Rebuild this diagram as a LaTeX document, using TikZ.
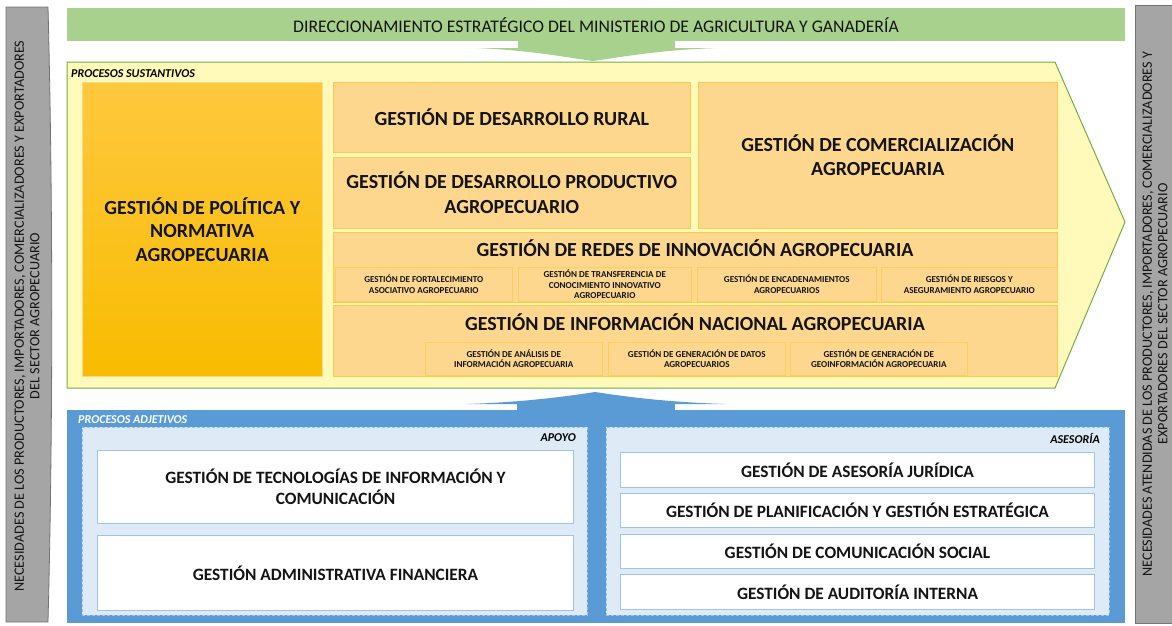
\documentclass[tikz,border=0pt]{standalone}
\usepackage{fontspec}
\setmainfont{Carlito}
\usetikzlibrary{positioning}

\definecolor{bannergreen}{HTML}{A9D18E}
\definecolor{edgegreen}{HTML}{70AD47}
\definecolor{paleyellow}{HTML}{FFF9BA}
\definecolor{peach}{HTML}{FED78E}
\definecolor{peachedge}{HTML}{FFC94A}
\definecolor{goldtop}{HTML}{FEC83E}
\definecolor{goldbottom}{HTML}{F8BC00}
\definecolor{steelblue}{HTML}{5B9BD5}
\definecolor{paleblue}{HTML}{DEEBF7}
\definecolor{lineblue}{HTML}{9DC3E6}
\definecolor{sidegray}{HTML}{A5A5A5}
\definecolor{inkdark}{HTML}{141414}

\tikzset{
  sidepanel/.style = {fill=sidegray, draw=black!55, line width=0.8pt},
  sidetext/.style = {rotate=90, align=center, text=inkdark, font=\fontsize{14.2}{15.5}\selectfont},
  bannertext/.style = {text=inkdark, font=\fontsize{17.7}{20}\selectfont},
  tag/.style = {inner sep=0pt, font=\bfseries\itshape\fontsize{12}{13}\selectfont},
  procbox/.style = {anchor=north west, fill=peach, draw=peachedge, line width=0.6pt,
    align=center, text=inkdark, inner sep=0pt, font=\bfseries\fontsize{20}{24.5}\selectfont},
  policybox/.style = {procbox, top color=goldtop, bottom color=goldbottom, draw=peach,
    font=\bfseries\fontsize{20}{23.5}\selectfont},
  proctitle/.style = {text=inkdark, inner sep=0pt, font=\bfseries\fontsize{20}{24}\selectfont},
  subbox/.style = {anchor=north west, fill=peach, draw=peachedge!70!peach, line width=0.6pt,
    align=center, text=inkdark, inner sep=0pt, font=\bfseries\fontsize{9.1}{10.5}\selectfont},
  adjpanel/.style = {anchor=north west, fill=paleblue, draw=lineblue, densely dashed, line width=0.6pt},
  whitebox/.style = {anchor=north west, fill=white, draw=lineblue, line width=1pt,
    align=center, text=inkdark, inner sep=0pt, font=\bfseries\fontsize{17.3}{21}\selectfont},
}

\begin{document}
\begin{tikzpicture}[x=1pt, y=-1pt]
\useasboundingbox (0,0) rectangle (1172,625);

% side panels
\draw[sidepanel] (6,7) -- (48,7) .. controls (53,200) and (53,430) .. (48,622) -- (6,622) -- cycle;
\node[sidetext] (needs) at (27,316) {NECESIDADES DE LOS PRODUCTORES, IMPORTADORES, COMERCIALIZADORES Y EXPORTADORES\\DEL SECTOR AGROPECUARIO};
\draw[sidepanel] (1135,5) rectangle (1175,623);
\node[sidetext] (served) at (1155,314) {NECESIDADES ATENDIDAS DE LOS PRODUCTORES, IMPORTADORES, COMERCIALIZADORES Y\\EXPORTADORES DEL SECTOR AGROPECUARIO};

% direccionamiento
\fill[bannergreen] (67,8) rectangle (1125,41);
\fill[bannergreen] (518,40) rectangle (675,48.5);
\fill[bannergreen] (475,48) .. controls (530,50) and (570,58) .. (593,61)
  .. controls (616,58) and (656,50) .. (718,48) -- cycle;
\node[bannertext] (mag) at (596,25) {DIRECCIONAMIENTO ESTRATÉGICO DEL MINISTERIO DE AGRICULTURA Y GANADERÍA};

% procesos sustantivos
\draw[edgegreen, fill=paleyellow, line width=1pt] (67,62) -- (1055,62) -- (1125,222) -- (1055,388) -- (67,388) -- cycle;
\node[tag, anchor=west] (sust) at (71,74) {PROCESOS SUSTANTIVOS};

\node[policybox, minimum width=240pt, minimum height=294pt] (politica) at (82,82) {GESTIÓN DE POLÍTICA Y\\NORMATIVA\\AGROPECUARIA};
\node[procbox, minimum width=357pt, minimum height=70pt] (rural) at (333,82) {GESTIÓN DE DESARROLLO RURAL};
\node[procbox, minimum width=357pt, minimum height=71pt] (productivo) at (333,157) {GESTIÓN DE DESARROLLO PRODUCTIVO\\AGROPECUARIO};
\node[procbox, minimum width=359pt, minimum height=146pt] (comercio) at (698,82) {GESTIÓN DE COMERCIALIZACIÓN\\AGROPECUARIA};

\node[procbox, minimum width=724pt, minimum height=70pt] (redes) at (333,232) {};
\node[proctitle] (redestitle) at (695,248) {GESTIÓN DE REDES DE INNOVACIÓN AGROPECUARIA};
\node[subbox, minimum width=177pt, minimum height=34pt] (asociativo) at (335,267) {GESTIÓN DE FORTALECIMIENTO\\ASOCIATIVO AGROPECUARIO};
\node[subbox, minimum width=173pt, minimum height=34pt] (transferencia) at (518,267) {GESTIÓN DE TRANSFERENCIA DE\\CONOCIMIENTO INNOVATIVO\\AGROPECUARIO};
\node[subbox, minimum width=179pt, minimum height=34pt] (encadenamientos) at (697,267) {GESTIÓN DE ENCADENAMIENTOS\\AGROPECUARIOS};
\node[subbox, minimum width=176pt, minimum height=34pt] (riesgos) at (881,267) {GESTIÓN DE RIESGOS Y\\ASEGURAMIENTO AGROPECUARIO};

\node[procbox, minimum width=724pt, minimum height=71pt] (informacion) at (333,305) {};
\node[proctitle] (infotitle) at (695,322) {GESTIÓN DE INFORMACIÓN NACIONAL AGROPECUARIA};
\node[subbox, minimum width=177pt, minimum height=33pt] (analisis) at (425,342) {GESTIÓN DE ANÁLISIS DE\\INFORMACIÓN AGROPECUARIA};
\node[subbox, minimum width=177pt, minimum height=33pt] (datos) at (608,342) {GESTIÓN DE GENERACIÓN DE DATOS\\AGROPECUARIOS};
\node[subbox, minimum width=177pt, minimum height=33pt] (geo) at (790,342) {GESTIÓN DE GENERACIÓN DE\\GEOINFORMACIÓN AGROPECUARIA};

% procesos adjetivos
\fill[steelblue] (67,410) rectangle (1125,623);
\fill[steelblue] (517,403) rectangle (675,411);
\fill[steelblue] (467,404) .. controls (530,402) and (575,395) .. (595,392)
  .. controls (615,395) and (660,402) .. (725,404) -- cycle;
\node[tag, text=white, anchor=west] (adj) at (78,420) {PROCESOS ADJETIVOS};

\node[adjpanel, minimum width=505pt, minimum height=188pt] (apoyo) at (82,427) {};
\node[tag, anchor=east] (apoyotag) at (576,438) {APOYO};
\node[whitebox, minimum width=476pt, minimum height=73pt] (tic) at (97,450) {GESTIÓN DE TECNOLOGÍAS DE INFORMACIÓN Y\\COMUNICACIÓN};
\node[whitebox, minimum width=476pt, minimum height=75pt] (financiera) at (97,535) {GESTIÓN ADMINISTRATIVA FINANCIERA};

\node[adjpanel, minimum width=503pt, minimum height=188pt] (asesoria) at (606,427) {};
\node[tag, anchor=east] (asesoriatag) at (1100,438) {ASESORÍA};
\node[whitebox, minimum width=474pt, minimum height=35pt] (juridica) at (620,452) {GESTIÓN DE ASESORÍA JURÍDICA};
\node[whitebox, minimum width=474pt, minimum height=34pt] (planificacion) at (620,493) {GESTIÓN DE PLANIFICACIÓN Y GESTIÓN ESTRATÉGICA};
\node[whitebox, minimum width=474pt, minimum height=34pt] (comunicacion) at (620,534) {GESTIÓN DE COMUNICACIÓN SOCIAL};
\node[whitebox, minimum width=474pt, minimum height=35pt] (auditoria) at (620,574) {GESTIÓN DE AUDITORÍA INTERNA};
\end{tikzpicture}
\end{document}
